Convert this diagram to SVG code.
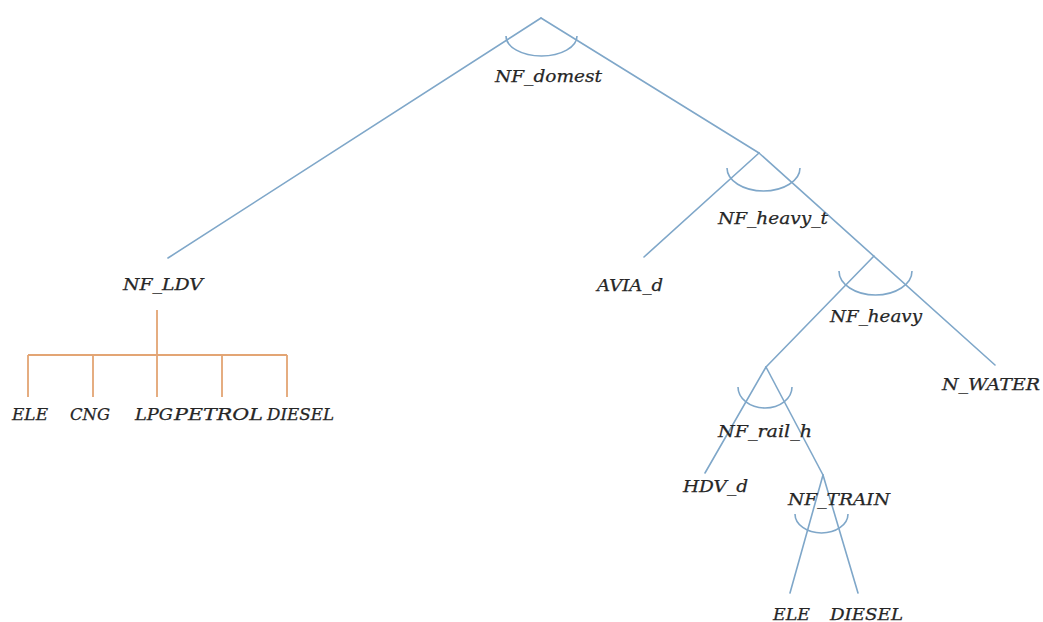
<svg xmlns="http://www.w3.org/2000/svg" width="1043" height="622" viewBox="0 0 1043 622">
  <style>
    .edge { stroke: #7fa7c9; stroke-width: 1.6; fill: none; stroke-linecap: round; }
    .arc { stroke: #7fa7c9; stroke-width: 1.6; fill: none; }
    .ldv { stroke: #e3a574; stroke-width: 1.8; fill: none; }
    .lbl { font-family: "DejaVu Serif", "Liberation Serif", serif; font-style: italic; font-size: 17px; fill: #262626; stroke: #262626; stroke-width: 0.25; }
  </style>
  <rect width="1043" height="622" fill="#ffffff"/>

  <!-- tree connectors -->
  <g id="connectors">
    <line class="edge" x1="541" y1="18" x2="168" y2="258"/>
    <line class="edge" x1="541" y1="18" x2="759" y2="153"/>
    <line class="edge" x1="759" y1="153" x2="644" y2="257"/>
    <line class="edge" x1="759" y1="153" x2="995" y2="365"/>
    <line class="edge" x1="874" y1="256" x2="766" y2="367"/>
    <line class="edge" x1="766" y1="367" x2="705" y2="473"/>
    <line class="edge" x1="766" y1="367" x2="823" y2="475"/>
    <line class="edge" x1="823" y1="475" x2="790" y2="593"/>
    <line class="edge" x1="823" y1="475" x2="858" y2="593"/>
    <!-- fuel bracket under NF_LDV -->
    <path class="ldv" d="M157 310 V397 M28 355 H287 M28 355 V397 M93 355 V397 M222 355 V397 M287 355 V397"/>
  </g>

  <g id="NF_domest">
    <path class="arc" d="M506 36 A35.5 20 0 0 0 577 36"/>
    <text class="lbl" x="495" y="82" textLength="107" lengthAdjust="spacingAndGlyphs">NF_domest</text>
  </g>
  <g id="NF_LDV">
    <text class="lbl" x="123" y="290" textLength="80" lengthAdjust="spacingAndGlyphs">NF_LDV</text>
  </g>
  <g id="LDV_ELE">
    <text class="lbl" x="12" y="420" textLength="36" lengthAdjust="spacingAndGlyphs">ELE</text>
  </g>
  <g id="LDV_CNG">
    <text class="lbl" x="70" y="420" textLength="40" lengthAdjust="spacingAndGlyphs">CNG</text>
  </g>
  <g id="LDV_LPG">
    <text class="lbl" x="135" y="420" textLength="38" lengthAdjust="spacingAndGlyphs">LPG</text>
  </g>
  <g id="LDV_PETROL">
    <text class="lbl" x="174" y="420" textLength="89" lengthAdjust="spacingAndGlyphs">PETROL</text>
  </g>
  <g id="LDV_DIESEL">
    <text class="lbl" x="267" y="420" textLength="67" lengthAdjust="spacingAndGlyphs">DIESEL</text>
  </g>
  <g id="NF_heavy_t">
    <path class="arc" d="M727 168 A36.5 23 0 0 0 800 168"/>
    <text class="lbl" x="718" y="224" textLength="110" lengthAdjust="spacingAndGlyphs">NF_heavy_t</text>
  </g>
  <g id="AVIA_d">
    <text class="lbl" x="597" y="291" textLength="66" lengthAdjust="spacingAndGlyphs">AVIA_d</text>
  </g>
  <g id="NF_heavy">
    <path class="arc" d="M839 271 A36.5 24 0 0 0 912 271"/>
    <text class="lbl" x="830" y="322" textLength="92" lengthAdjust="spacingAndGlyphs">NF_heavy</text>
  </g>
  <g id="N_WATER">
    <text class="lbl" x="942" y="390" textLength="98" lengthAdjust="spacingAndGlyphs">N_WATER</text>
  </g>
  <g id="NF_rail_h">
    <path class="arc" d="M738 387 A27 21 0 0 0 792 387"/>
    <text class="lbl" x="718" y="437" textLength="94" lengthAdjust="spacingAndGlyphs">NF_rail_h</text>
  </g>
  <g id="HDV_d">
    <text class="lbl" x="683" y="492" textLength="65" lengthAdjust="spacingAndGlyphs">HDV_d</text>
  </g>
  <g id="NF_TRAIN">
    <path class="arc" d="M795 514 A26.5 19 0 0 0 848 514"/>
    <text class="lbl" x="788" y="505" textLength="102" lengthAdjust="spacingAndGlyphs">NF_TRAIN</text>
  </g>
  <g id="TRAIN_ELE">
    <text class="lbl" x="773" y="620" textLength="37" lengthAdjust="spacingAndGlyphs">ELE</text>
  </g>
  <g id="TRAIN_DIESEL">
    <text class="lbl" x="830" y="620" textLength="73" lengthAdjust="spacingAndGlyphs">DIESEL</text>
  </g>
</svg>
